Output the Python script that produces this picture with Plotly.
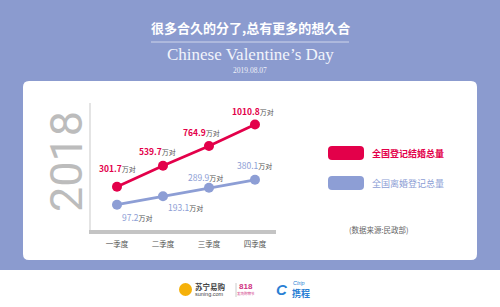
import plotly.graph_objects as go

W, H = 500, 307

# ---------------- data ----------------
quarters = ["一季度", "二季度", "三季度", "四季度"]
marriage = [301.7, 539.7, 764.9, 1010.8]   # 全国登记结婚总量 (万对)
divorce = [97.2, 193.1, 289.9, 380.1]      # 全国离婚登记总量 (万对)
series_names = ["全国登记结婚总量", "全国离婚登记总量"]
unit = "万对"
year_label = "2018"
title_cn = "很多合久的分了,总有更多的想久合"
title_en = "Chinese Valentine’s Day"
date_label = "2019.08.07"
source_label = "(数据来源:民政部)"

# ---------------- styles ----------------
BG = "#8b9bcf"
RED = "#e3004a"
BLUE = "#8d9ed5"
CJK = "Noto Sans CJK SC"
SERIF = "Liberation Serif"


def px(x):
    return x / W


def py(y):
    return 1 - y / H


def rrect(x0, y0, x1, y1, r):
    """rounded rectangle path in paper coords from pixel coords"""
    pts = [
        f"M {px(x0 + r)},{py(y0)}",
        f"L {px(x1 - r)},{py(y0)}",
        f"Q {px(x1)},{py(y0)} {px(x1)},{py(y0 + r)}",
        f"L {px(x1)},{py(y1 - r)}",
        f"Q {px(x1)},{py(y1)} {px(x1 - r)},{py(y1)}",
        f"L {px(x0 + r)},{py(y1)}",
        f"Q {px(x0)},{py(y1)} {px(x0)},{py(y1 - r)}",
        f"L {px(x0)},{py(y0 + r)}",
        f"Q {px(x0)},{py(y0)} {px(x0 + r)},{py(y0)}",
        "Z",
    ]
    return " ".join(pts)


fig = go.Figure()

idx = list(range(len(quarters)))
fig.add_trace(go.Scatter(
    x=idx, y=marriage, mode="lines+markers", name=series_names[0],
    line=dict(color=RED, width=2.8), marker=dict(size=10, color=RED),
    hoverinfo="skip", showlegend=False,
))
fig.add_trace(go.Scatter(
    x=idx, y=divorce, mode="lines+markers", name=series_names[1],
    line=dict(color=BLUE, width=2.8), marker=dict(size=10, color=BLUE),
    hoverinfo="skip", showlegend=False,
))

shapes = []
# white card
shapes.append(dict(type="path", xref="paper", yref="paper", layer="below",
                   path=rrect(23, 81, 477, 260, 6),
                   fillcolor="white", line=dict(width=0)))
# footer band
shapes.append(dict(type="rect", xref="paper", yref="paper", layer="below",
                   x0=0, x1=1, y0=0, y1=py(270),
                   fillcolor="white", line=dict(width=0)))
# title divider
shapes.append(dict(type="line", xref="paper", yref="paper",
                   x0=px(151), x1=px(349), y0=py(42), y1=py(42),
                   line=dict(color="rgba(255,255,255,0.6)", width=1)))
# legend swatches
shapes.append(dict(type="path", xref="paper", yref="paper",
                   path=rrect(328, 146, 364, 160, 4),
                   fillcolor=RED, line=dict(width=0)))
shapes.append(dict(type="path", xref="paper", yref="paper",
                   path=rrect(328, 176, 364, 190, 4),
                   fillcolor=BLUE, line=dict(width=0)))
# footer logos (simplified)
shapes.append(dict(type="circle", xref="paper", yref="paper",
                   x0=px(179), x1=px(192), y0=py(296), y1=py(283),
                   fillcolor="#f5b10a", line=dict(width=0)))
shapes.append(dict(type="line", xref="paper", yref="paper",
                   x0=px(236), x1=px(236), y0=py(283), y1=py(297),
                   line=dict(color="#cccccc", width=1)))

annotations = []


def lab(i, v, color, bold, xs, ys, numsize):
    num = f"{v:.1f}"
    if bold:
        num = f"<b>{num}</b>"
    txt = (f"<span style='color:{color};font-size:{numsize}px'>{num}</span>"
           f"<span style='color:#555555;font-size:7px'>{unit}</span>")
    annotations.append(dict(x=i, y=v, xref="x", yref="y", text=txt,
                            showarrow=False, xanchor="left", yanchor="middle",
                            xshift=xs, yshift=ys, borderpad=0,
                            font=dict(family=CJK, size=9)))


red_off = [(-19, 19), (-25, 15), (-27, 14), (-24, 13.5)]
blue_off = [(4, -12), (4, -11), (-22, 11), (-19, 15)]
for i, v in enumerate(marriage):
    lab(i, v, RED, True, red_off[i][0], red_off[i][1], 8.5)
for i, v in enumerate(divorce):
    lab(i, v, BLUE, False, blue_off[i][0], blue_off[i][1], 8.5)


def note(x, y, text, font, xanchor="center"):
    annotations.append(dict(x=px(x), y=py(y), xref="paper", yref="paper",
                            text=text, showarrow=False, xanchor=xanchor,
                            yanchor="middle", font=font))


# year
annotations.append(dict(x=px(66.5), y=py(161.5), xref="paper", yref="paper",
                        text=year_label, textangle=-90, showarrow=False,
                        xanchor="center", yanchor="middle",
                        font=dict(family="Roboto", size=45, color="#bcbcbc", weight=400)))
# titles
note(250, 27, f"<b>{title_cn}</b>", dict(family=CJK, size=13, color="white"))
note(250, 54.5, title_en, dict(family=SERIF, size=17, color="#f2f4fb"))
note(250, 70, date_label, dict(family=SERIF, size=7.5, color="#eef0f8"))
# legend text
note(370, 153, f"<b>{series_names[0]}</b>", dict(family=CJK, size=9, color=RED), "left")
note(370, 183.5, series_names[1], dict(family=CJK, size=9, color=BLUE), "left")
note(378.5, 229, source_label, dict(family=CJK, size=7.5, color="#666666"))
# footer texts
note(193, 286, "<b>苏宁易购</b>", dict(family=CJK, size=7.5, color="#444444"), "left")
note(193, 293.5, "suning.com", dict(family="Liberation Sans", size=5.5, color="#444444"), "left")
note(246, 286.5, "<b>818</b>", dict(family="Liberation Sans", size=8, color="#d0337f"))
note(246, 293.5, "发烧购物节", dict(family=CJK, size=3.5, color="#d0337f"))
note(282, 289.5, "<b><i>C</i></b>", dict(family="Liberation Sans", size=15, color="#2a7fd4"))
note(291, 282.5, "<i>Ctrip</i>", dict(family="Liberation Sans", size=5.5, color="#2a7fd4"), "left")
note(290, 293, "<b>携程</b>", dict(family=CJK, size=9, color="#2a7fd4"), "left")

fig.update_layout(
    width=W, height=H,
    margin=dict(l=0, r=0, t=0, b=0),
    paper_bgcolor=BG, plot_bgcolor="rgba(0,0,0,0)",
    shapes=shapes, annotations=annotations,
    xaxis=dict(domain=[px(91), px(276)], range=[-0.565, 3.457],
               tickmode="array", tickvals=idx, ticktext=quarters,
               showgrid=False, zeroline=False, showline=True,
               linecolor="#c4c4c4", linewidth=3.5,
               ticks="outside", ticklen=4, tickcolor="rgba(0,0,0,0)",
               tickfont=dict(family=CJK, size=7.5, color="#555555"),
               fixedrange=True),
    yaxis=dict(domain=[py(230), py(103)], range=[-191.3, 1255.1],
               showgrid=False, zeroline=False, showline=True,
               linecolor="#e4e4e4", linewidth=1.5, showticklabels=False,
               ticks="", fixedrange=True),
    showlegend=False,
)

fig.write_html("out.html", config={"displayModeBar": False})
